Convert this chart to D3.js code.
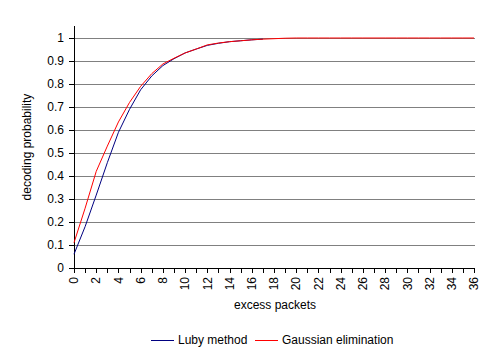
<!DOCTYPE html>
<html>
<head>
<meta charset="utf-8">
<script src="https://cdn.jsdelivr.net/npm/d3@7"></script>
<style>
  html, body { margin: 0; padding: 0; background: #fff; }
  svg { display: block; font-family: "Liberation Sans", Arial, sans-serif; }
</style>
</head>
<body>
<svg id="chart" width="491" height="358"></svg>
<script>
// ---- data ----
const lubyX = [0,1,2,3,4,5,6,7,8,9,10,11,12,13,14,15,16,17];
const lubyY = [0.06,0.18,0.317,0.458,0.59,0.69,0.775,0.835,0.88,0.91,0.935,0.952,0.968,0.977,0.984,0.988,0.992,0.995];
const gaussX = [0,1,2,3,4,5,6,7,8,9,10,11,12,13,14,15,16,17,18,19,20,21,22,23,24,25,26,27,28,29,30,31,32,33,34,35,36];
const gaussY = [0.11,0.26,0.42,0.53,0.635,0.72,0.79,0.845,0.887,0.912,0.935,0.952,0.97,0.978,0.984,0.988,0.992,0.995,0.997,0.999,1,1,1,1,1,1,1,1,1,1,1,1,1,1,1,1,1];
const yTicks = [0,0.1,0.2,0.3,0.4,0.5,0.6,0.7,0.8,0.9,1];
const xTickLabels = d3.range(0, 37, 2);
const xMinorTicks = d3.range(0, 37, 1);
const seriesNames = ["Luby method", "Gaussian elimination"];
const seriesColors = ["#000080", "#ff0000"];

// ---- layout ----
const svg = d3.select("#chart");
const x = d3.scaleLinear().domain([0, 36]).range([74, 474]);
const y = d3.scaleLinear().domain([0, 1]).range([268, 38]);
const axisTop = 26;

// gridlines
svg.append("g").selectAll("line").data(yTicks.filter(d => d > 0)).join("line")
  .attr("x1", x(0)).attr("x2", x(36) + 1)
  .attr("y1", d => Math.round(y(d)) + 0.5).attr("y2", d => Math.round(y(d)) + 0.5)
  .attr("stroke", "#808080").attr("stroke-width", 1).attr("shape-rendering", "crispEdges");

// y axis
const yg = svg.append("g");
yg.append("line").attr("x1", 74.5).attr("x2", 74.5).attr("y1", axisTop).attr("y2", y(0) + 0.5)
  .attr("stroke", "#000").attr("shape-rendering", "crispEdges");
yg.selectAll("line.t").data(yTicks).join("line").attr("class", "t")
  .attr("x1", 69).attr("x2", 74.5)
  .attr("y1", d => Math.round(y(d)) + 0.5).attr("y2", d => Math.round(y(d)) + 0.5)
  .attr("stroke", "#000").attr("shape-rendering", "crispEdges");
yg.selectAll("text").data(yTicks).join("text")
  .attr("x", 64).attr("y", d => y(d)).attr("dy", "0.35em")
  .attr("text-anchor", "end").attr("font-size", 12).attr("fill", "#000")
  .text(d => d3.format("")(d));

// x axis
const xg = svg.append("g");
xg.append("line").attr("x1", x(0)).attr("x2", x(36) + 1).attr("y1", Math.round(y(0)) + 0.5).attr("y2", Math.round(y(0)) + 0.5)
  .attr("stroke", "#000").attr("shape-rendering", "crispEdges");
xg.selectAll("line.t").data(xMinorTicks).join("line").attr("class", "t")
  .attr("x1", d => Math.round(x(d)) + 0.5).attr("x2", d => Math.round(x(d)) + 0.5)
  .attr("y1", Math.round(y(0))).attr("y2", Math.round(y(0)) + 5)
  .attr("stroke", "#000").attr("shape-rendering", "crispEdges");
xg.selectAll("text").data(xTickLabels).join("text")
  .attr("transform", d => `translate(${x(d)},277) rotate(-90)`)
  .attr("dy", "0.35em").attr("text-anchor", "end")
  .attr("font-size", 12).attr("fill", "#000")
  .text(d => d);

// axis titles
svg.append("text").attr("x", 275).attr("y", 309).attr("text-anchor", "middle")
  .attr("font-size", 12).text("excess packets");
svg.append("text").attr("transform", "translate(31,147) rotate(-90)").attr("text-anchor", "middle")
  .attr("font-size", 12).text("decoding probability");

// series
const line = d3.line().x(d => x(d[0])).y(d => y(d[1]));
svg.append("path").datum(lubyX.map((v, i) => [v, lubyY[i]]))
  .attr("d", line).attr("fill", "none").attr("stroke", seriesColors[0]).attr("stroke-width", 1);
svg.append("path").datum(gaussX.map((v, i) => [v, gaussY[i]]))
  .attr("d", line).attr("fill", "none").attr("stroke", seriesColors[1]).attr("stroke-width", 1);

// legend
const legendItems = [
  { name: seriesNames[0], color: seriesColors[0], lx: 151, tx: 178 },
  { name: seriesNames[1], color: seriesColors[1], lx: 255, tx: 282 }
];
const lg = svg.append("g");
legendItems.forEach(it => {
  lg.append("line").attr("x1", it.lx).attr("x2", it.lx + 23).attr("y1", 340.5).attr("y2", 340.5)
    .attr("stroke", it.color).attr("stroke-width", 1).attr("shape-rendering", "crispEdges");
  lg.append("text").attr("x", it.tx).attr("y", 340).attr("dy", "0.35em")
    .attr("font-size", 12).text(it.name);
});
</script>
</body>
</html>
